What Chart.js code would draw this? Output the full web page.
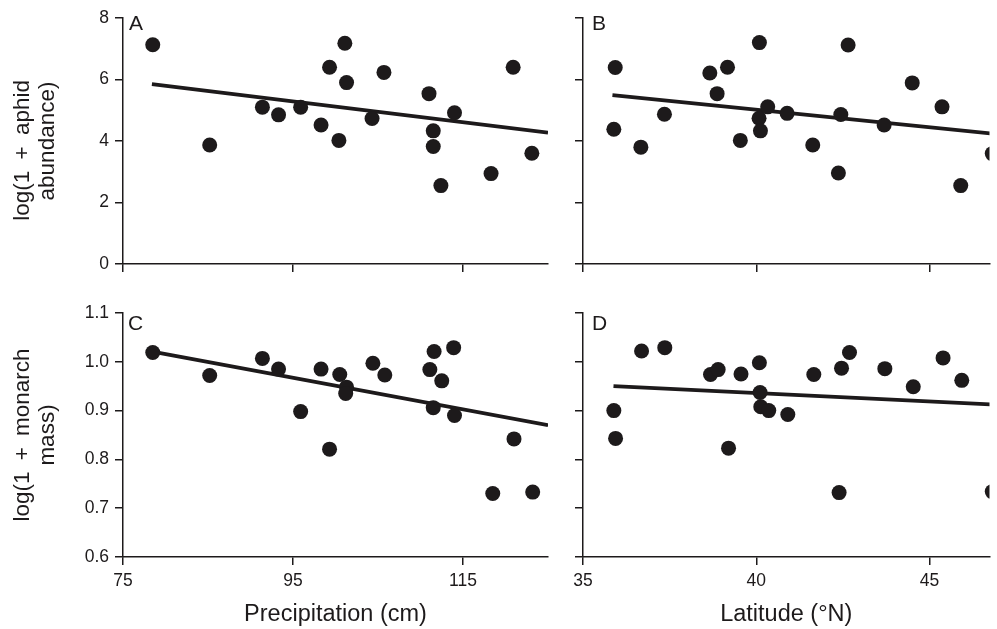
<!DOCTYPE html>
<html>
<head>
<meta charset="utf-8">
<script src="https://cdn.jsdelivr.net/npm/chart.js@4.4.1/dist/chart.umd.min.js"></script>
<style>
  html, body { margin: 0; padding: 0; background: #fff; overflow: hidden; }
  #wrap { position: relative; width: 997px; height: 629px; }
  #wrap canvas { position: absolute; left: 0; top: 0; }
</style>
</head>
<body>
<div id="wrap">
  <canvas id="panelA" width="997" height="629"></canvas>
  <canvas id="panelB" width="997" height="629"></canvas>
  <canvas id="panelC" width="997" height="629"></canvas>
  <canvas id="panelD" width="997" height="629"></canvas>
</div>
<script>
// --- data ---
// A: aphid abundance vs precipitation
const precipA = [78.5, 85.2, 91.4, 93.3, 95.9, 98.3, 99.3, 100.4, 101.1, 101.3, 104.3, 105.7, 111.0, 111.5, 111.5, 112.4, 114.0, 118.3, 120.9, 123.1];
const aphidA  = [7.13, 3.87, 5.10, 4.85, 5.10, 4.52, 6.40, 4.02, 7.18, 5.90, 4.73, 6.23, 5.54, 4.33, 3.82, 2.55, 4.92, 2.94, 6.40, 3.60];
const fitAx = [78.4, 125];
const fitAy = [5.85, 4.27];

// B: aphid abundance vs latitude
const latB   = [35.93, 35.89, 36.67, 37.35, 38.66, 38.87, 39.17, 39.54, 40.09, 40.08, 40.12, 40.33, 40.89, 41.63, 42.37, 42.44, 42.65, 43.69, 44.50, 45.36, 45.90, 46.81];
const aphidB = [6.39, 4.38, 3.80, 4.87, 6.21, 5.54, 6.40, 4.02, 7.20, 4.74, 4.33, 5.11, 4.90, 3.87, 2.96, 4.86, 7.12, 4.52, 5.89, 5.11, 2.55, 3.59];
const fitBx = [35.85, 47];
const fitBy = [5.49, 4.22];

// C: monarch mass vs precipitation
const precipC = [78.5, 85.2, 91.4, 93.3, 95.9, 98.3, 99.3, 100.5, 101.3, 101.2, 104.4, 105.8, 111.1, 111.6, 111.5, 112.5, 113.9, 114.0, 121.0, 118.5, 123.2];
const massC   = [1.019, 0.972, 1.007, 0.985, 0.898, 0.985, 0.821, 0.974, 0.948, 0.935, 0.997, 0.973, 0.984, 1.021, 0.906, 0.961, 1.029, 0.890, 0.842, 0.730, 0.733];
const fitCx = [78.45, 125];
const fitCy = [1.021, 0.870];

// D: monarch mass vs latitude
const latD  = [36.69, 37.36, 35.89, 35.94, 38.68, 38.90, 39.56, 39.20, 40.09, 40.11, 40.13, 40.36, 40.91, 41.66, 42.39, 42.46, 42.69, 43.71, 44.53, 45.39, 45.93, 46.81];
const massD = [1.022, 1.029, 0.900, 0.843, 0.974, 0.984, 0.975, 0.823, 0.998, 0.937, 0.908, 0.900, 0.892, 0.974, 0.732, 0.987, 1.019, 0.986, 0.949, 1.008, 0.962, 0.734];
const fitDx = [35.88, 47];
const fitDy = [0.950, 0.912];

// axis ticks
const precipTicks = [75, 95, 115];
const latTicks    = [35, 40, 45];
const aphidTicks  = [0, 2, 4, 6, 8];
const massTicks   = [0.6, 0.7, 0.8, 0.9, 1.0, 1.1];

const ink = '#1d1a1b';
const family = '"Liberation Sans", Arial, Helvetica, sans-serif';

function points(xs, ys) {
  return xs.map((x, i) => ({ x: x, y: ys[i] }));
}

// draws the panel letter in the top-left corner of the plot area
const panelLetter = {
  id: 'panelLetter',
  afterDraw(chart, args, opts) {
    const { ctx, chartArea } = chart;
    ctx.save();
    ctx.font = '21px ' + family;
    ctx.fillStyle = ink;
    ctx.textBaseline = 'alphabetic';
    ctx.textAlign = 'left';
    ctx.fillText(opts.text, chartArea.left + opts.dx, chartArea.top + opts.dy);
    ctx.restore();
  }
};

function axisStyle() {
  return {
    grid: { drawOnChartArea: false, drawTicks: true, tickLength: 8, color: ink, lineWidth: 1.5 },
    border: { display: true, color: ink, width: 1.5 }
  };
}

function drawPanel(id, cfg) {
  const xAxis = Object.assign(axisStyle(), {
    type: 'linear',
    min: cfg.xMin,
    max: cfg.xMax,
    afterBuildTicks: s => { s.ticks = cfg.xTicks.map(v => ({ value: v })); },
    afterFit: s => { s.height = cfg.xHeight; },
    ticks: { display: cfg.xLabels, color: ink, font: { family: family, size: 17.5 }, padding: 6, maxRotation: 0, autoSkip: false },
    title: { display: !!cfg.xTitle, text: cfg.xTitle || '', color: ink, font: { family: family, size: 23.5 }, padding: { top: 0, bottom: 0 } }
  });
  const yAxis = Object.assign(axisStyle(), {
    type: 'linear',
    min: cfg.yMin,
    max: cfg.yMax,
    afterBuildTicks: s => { s.ticks = cfg.yTicks.map(v => ({ value: v })); },
    afterFit: s => { s.width = cfg.yWidth; },
    ticks: {
      display: cfg.yLabels, color: ink, font: { family: family, size: 17.5 }, padding: 6, autoSkip: false,
      callback: v => cfg.yFormat(v)
    },
    title: { display: !!cfg.yTitle, text: cfg.yTitle || '', color: ink, font: { family: family, size: 22.5, lineHeight: 1.08 }, padding: { top: 11, bottom: 0 } }
  });

  new Chart(document.getElementById(id), {
    type: 'scatter',
    data: {
      datasets: [
        {
          data: points(cfg.xs, cfg.ys),
          pointRadius: 7.5,
          pointHoverRadius: 7.5,
          backgroundColor: ink,
          borderColor: ink,
          borderWidth: 0
        },
        {
          data: points(cfg.fitX, cfg.fitY),
          showLine: true,
          pointRadius: 0,
          borderColor: ink,
          borderWidth: 3.8
        }
      ]
    },
    options: {
      responsive: false,
      animation: false,
      events: [],
      layout: { padding: cfg.padding },
      plugins: {
        legend: { display: false },
        tooltip: { enabled: false },
        panelLetter: cfg.letter
      },
      scales: { x: xAxis, y: yAxis }
    },
    plugins: [panelLetter]
  });
}

const oneDecimal = v => v.toFixed(1);
const whole = v => String(v);

drawPanel('panelA', {
  xs: precipA, ys: aphidA, fitX: fitAx, fitY: fitAy,
  xMin: 75, xMax: 125, xTicks: precipTicks, xLabels: false, xHeight: 8,
  yMin: 0, yMax: 8, yTicks: aphidTicks, yLabels: true, yWidth: 123, yFormat: whole,
  yTitle: ['log(1\u2002+\u2002aphid   ', 'abundance)'],
  padding: { left: 0, top: 18, right: 449, bottom: 357 },
  letter: { text: 'A', dx: 6, dy: 12 }
});

drawPanel('panelB', {
  xs: latB, ys: aphidB, fitX: fitBx, fitY: fitBy,
  xMin: 35, xMax: 46.73, xTicks: latTicks, xLabels: false, xHeight: 8,
  yMin: 0, yMax: 8, yTicks: aphidTicks, yLabels: false, yWidth: 8, yFormat: whole,
  padding: { left: 575, top: 18, right: 0, bottom: 357 },
  letter: { text: 'B', dx: 9, dy: 12 }
});

drawPanel('panelC', {
  xs: precipC, ys: massC, fitX: fitCx, fitY: fitCy,
  xMin: 75, xMax: 125, xTicks: precipTicks, xLabels: true, xHeight: 72,
  xTitle: 'Precipitation (cm)',
  yMin: 0.6, yMax: 1.1, yTicks: massTicks, yLabels: true, yWidth: 123, yFormat: oneDecimal,
  yTitle: ['log(1\u2002+\u2002monarch', 'mass)'],
  padding: { left: 0, top: 313, right: 449, bottom: 0 },
  letter: { text: 'C', dx: 5, dy: 17 }
});

drawPanel('panelD', {
  xs: latD, ys: massD, fitX: fitDx, fitY: fitDy,
  xMin: 35, xMax: 46.73, xTicks: latTicks, xLabels: true, xHeight: 72,
  xTitle: 'Latitude (\u00b0N)',
  yMin: 0.6, yMax: 1.1, yTicks: massTicks, yLabels: false, yWidth: 8, yFormat: oneDecimal,
  padding: { left: 575, top: 313, right: 0, bottom: 0 },
  letter: { text: 'D', dx: 9, dy: 17 }
});
</script>
</body>
</html>
